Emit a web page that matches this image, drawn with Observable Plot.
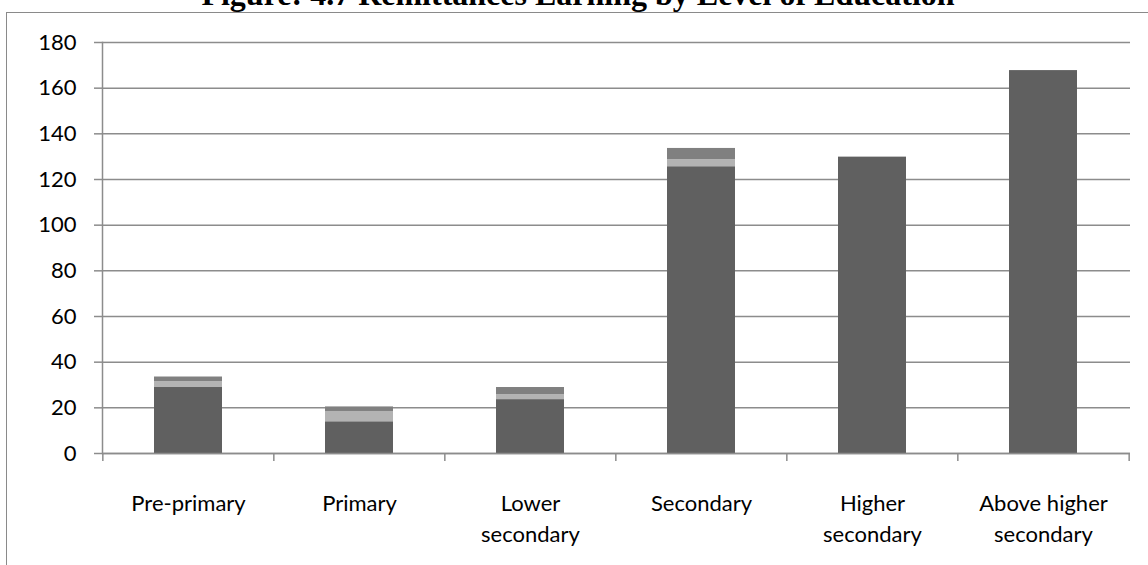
<!DOCTYPE html>
<html>
<head>
<meta charset="utf-8">
<script src="https://cdn.jsdelivr.net/npm/d3@7"></script>
<script src="https://cdn.jsdelivr.net/npm/@observablehq/plot@0.6"></script>
<style>
  html, body { margin: 0; padding: 0; background: #fff; }
  body { width: 1148px; height: 565px; overflow: hidden; position: relative; }
  #title {
    position: absolute; left: 0; top: -22px; width: 1156px;
    text-align: center; font-family: "Liberation Serif", "Times New Roman", serif;
    font-weight: bold; font-size: 32px; line-height: 1; color: #000; white-space: nowrap;
  }
  #box {
    position: absolute; left: 6px; top: 12px; width: 1300px; height: 800px;
    border: 1.5px solid #8a8a8a; box-sizing: border-box;
  }
  #chart { position: absolute; left: 0; top: 0; }
</style>
</head>
<body>
<div id="title">Figure: 4.7 Remittances Earning by Level of Education</div>
<div id="box"></div>
<div id="chart"></div>
<script>
// Education levels on the x axis
const categories = ["Pre-primary", "Primary", "Lower secondary", "Secondary", "Higher secondary", "Above higher secondary"];
const categoryLabels = ["Pre-primary", "Primary", "Lower\nsecondary", "Secondary", "Higher\nsecondary", "Above higher\nsecondary"];

// Stacked segments, bottom to top
const baseValues   = [28.9, 13.9, 23.6, 125.6, 129.8, 167.7];
const middleValues = [2.6, 4.5, 2.2, 3.1, 0, 0];
const topValues    = [2.0, 2.0, 3.1, 4.9, 0, 0];

const seriesNames = ["base", "middle", "top"];
const yTicks = [0, 20, 40, 60, 80, 100, 120, 140, 160, 180];

const rows = [];
[baseValues, middleValues, topValues].forEach((vals, s) => {
  vals.forEach((v, i) => rows.push({category: categories[i], series: seriesNames[s], value: v}));
});

const W = 1148, H = 565;
const mL = 102, mR = 18, mT = 42, mB = 112;
const step = (W - mL - mR) / categories.length;
const grid = "#8c8c8c";
const labelOf = new Map(categories.map((c, i) => [c, categoryLabels[i]]));

const chart = Plot.plot({
  width: W, height: H,
  marginLeft: mL, marginRight: mR, marginTop: mT, marginBottom: mB,
  style: {fontFamily: "Lato, 'Noto Sans', sans-serif", fontSize: "22px", color: "#000", background: "transparent"},
  x: {domain: categories, paddingInner: 0.6, paddingOuter: 0.3, axis: null},
  y: {domain: [0, 180], axis: null},
  color: {domain: seriesNames, range: ["#606060", "#b3b3b3", "#808080"]},
  marks: [
    Plot.gridY(yTicks, {stroke: grid, strokeOpacity: 1, strokeWidth: 1.5}),
    Plot.axisY(yTicks, {tickSize: 8, tickPadding: 18, stroke: grid, strokeWidth: 1.5, label: null, fontSize: 22}),
    Plot.frame({anchor: "left", stroke: grid, strokeWidth: 1.5}),
    // tick marks on the category boundaries
    Plot.axisX(categories, {tickSize: 8, tickFormat: () => "", dx: -step / 2, stroke: grid, strokeWidth: 1.5, label: null}),
    Plot.axisX(categories.slice(-1), {tickSize: 8, tickFormat: () => "", dx: step / 2, stroke: grid, strokeWidth: 1.5, label: null}),
    // category names
    Plot.axisX(categories, {tickSize: 0, tickPadding: 35, tickFormat: d => labelOf.get(d), lineHeight: 1.42, fontSize: 22, label: null}),
    Plot.barY(rows, {x: "category", y: "value", fill: "series", order: seriesNames}),
    Plot.ruleY([0], {stroke: grid, strokeWidth: 1.5})
  ]
});
document.getElementById("chart").appendChild(chart);
</script>
</body>
</html>
